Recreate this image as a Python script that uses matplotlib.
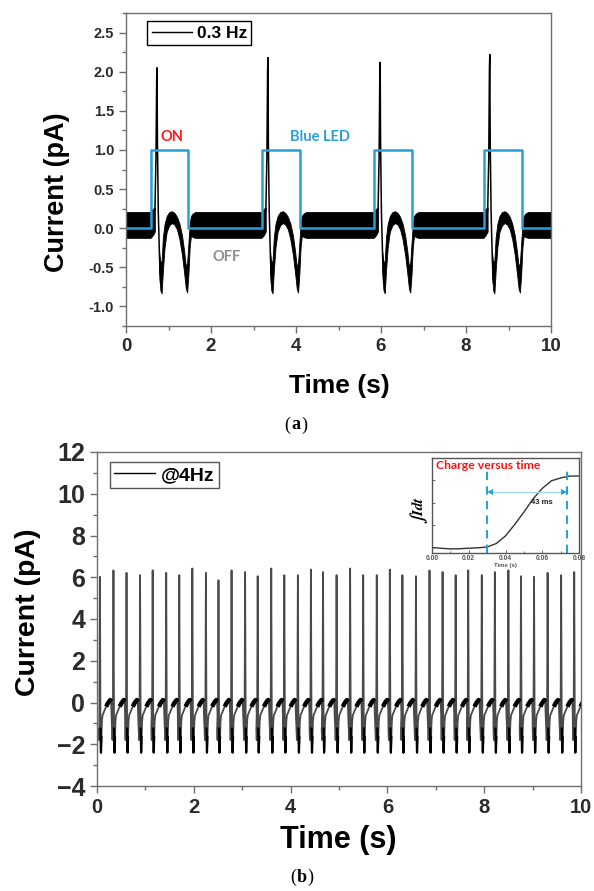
import numpy as np
import matplotlib
matplotlib.use("Agg")
import matplotlib.pyplot as plt
from matplotlib.ticker import MultipleLocator
from matplotlib.lines import Line2D

plt.rcParams['font.family'] = ['Liberation Sans', 'DejaVu Sans']
plt.rcParams['font.weight'] = 'bold'
plt.rcParams['axes.labelweight'] = 'bold'

# ---------------- data: panel (a) ----------------
led_on = [0.59, 3.20, 5.84, 8.42]
led_off = [1.46, 4.09, 6.73, 9.32]
peak_a = [2.05, 2.18, 2.12, 2.22]
base_hi, base_lo = 0.20, -0.13
# spike trace relative to LED-on
spike_rel = [0.09, 0.115, 0.132, 0.14, 0.15, 0.17, 0.20, 0.225]
spike_val = [0.22, 0.9, None, None, 1.1, 0.2, -0.4, -0.7]
# noisy envelope around the dip-hump-dip (relative to LED-on)
arch_rel = [0.20, 0.23, 0.26, 0.29, 0.33, 0.38, 0.44, 0.50, 0.56, 0.62,
            0.68, 0.74, 0.79, 0.83, 0.86, 0.89, 0.92, 0.95, 0.99, 1.05]
arch_hi = [-0.30, -0.45, -0.42, -0.12, 0.05, 0.15, 0.20, 0.21, 0.19, 0.14,
           0.05, -0.10, -0.30, -0.50, -0.45, -0.20, 0.05, 0.15, 0.18, 0.20]
arch_lo = [-0.55, -0.80, -0.84, -0.55, -0.25, -0.05, 0.03, 0.06, 0.04, -0.02,
           -0.15, -0.35, -0.58, -0.78, -0.83, -0.60, -0.25, -0.10, -0.12, -0.13]

# ---------------- data: panel (b) ----------------
spike_t_b = [0.06, 0.34, 0.61, 0.89, 1.15, 1.43, 1.70, 1.97, 2.25, 2.51, 2.78,
             3.06, 3.32, 3.60, 3.87, 4.15, 4.42, 4.67, 4.95, 5.23, 5.50, 5.78,
             6.05, 6.31, 6.59, 6.87, 7.14, 7.41, 7.67, 7.95, 8.22, 8.50, 8.76,
             9.03, 9.31, 9.59, 9.86]
peak_b = [6.02, 6.33, 6.21, 6.10, 6.33, 6.21, 6.10, 6.42, 6.21, 5.86, 6.33,
          6.25, 6.05, 6.42, 6.10, 6.10, 6.37, 6.25, 6.10, 6.42, 6.10, 6.10,
          6.37, 6.10, 6.05, 6.33, 6.25, 6.10, 6.33, 6.10, 6.25, 6.33, 6.05,
          6.02, 6.21, 6.10, 6.25]
cyc_rel = [-0.028, -0.020, -0.012, -0.006, 0.0, 0.006, 0.012, 0.022, 0.032,
           0.042, 0.055, 0.075, 0.10, 0.13, 0.16, 0.19, 0.215, 0.232, 0.240]
cyc_val = [-1.3, -1.8, -1.2, 2.5, None, 2.0, -1.2, -2.4, -1.6,
           -0.9, -0.6, -0.5, -0.35, -0.2, -0.05, 0.05, 0.12, 0.05, -0.6]

# inset: charge versus time
q_t = [0.000, 0.005, 0.010, 0.015, 0.020, 0.025, 0.030, 0.035, 0.040, 0.045,
       0.050, 0.055, 0.060, 0.065, 0.070, 0.075, 0.080]
q_v = [0.057, 0.050, 0.043, 0.045, 0.050, 0.055, 0.063, 0.10, 0.18, 0.30,
       0.43, 0.57, 0.68, 0.76, 0.79, 0.81, 0.81]
t_start, t_end = 0.0298, 0.0736

W, H = 594, 891
fig = plt.figure(figsize=(W / 100, H / 100), dpi=100)

spine_c = '#6e6e6e'
tick_c = '#2b2b2b'
blue = '#2a9fd8'


def style(ax, xs, ys):
    for s in ax.spines.values():
        s.set_color(spine_c)
        s.set_linewidth(1.0)
    ax.tick_params(which='both', direction='out', color=spine_c, width=1.0,
                   top=False, right=False, labelcolor=tick_c)
    ax.tick_params(which='major', length=5)
    ax.tick_params(which='minor', length=3)
    ax.tick_params(axis='x', labelsize=xs)
    ax.tick_params(axis='y', labelsize=ys)


def caption(cx, cy, letter):
    serif = ['Liberation Serif', 'DejaVu Serif']
    fig.text(cx / W, 1 - cy / H, letter, fontsize=13, family=serif,
             fontweight='bold', ha='center', va='center')
    fig.text((cx - 5.5) / W, 1 - cy / H, '(', fontsize=13, family=serif,
             fontweight='normal', ha='right', va='center')
    fig.text((cx + 5.5) / W, 1 - cy / H, ')', fontsize=13, family=serif,
             fontweight='normal', ha='left', va='center')


# ---------------- panel (a) ----------------
axA = fig.add_axes([126 / W, 1 - 326 / H, 425 / W, 313 / H])
bt, bh, bl = [0.0], [base_hi], [base_lo]
for on in led_on:
    bt += [on, on + 0.05, on + 0.10, on + 0.11]
    bh += [base_hi, 0.24, 0.26, np.nan]
    bl += [base_lo, -0.10, -0.05, np.nan]
    bt += [on + r for r in arch_rel]
    bh += arch_hi
    bl += arch_lo
bt.append(10.0); bh.append(base_hi); bl.append(base_lo)
bt, bh, bl = np.array(bt), np.array(bh, float), np.array(bl, float)
axA.fill_between(bt, bl, bh, color='black', lw=0.6, edgecolor='black')

for on, pk in zip(led_on, peak_a):
    vals = [v if v is not None else pk for v in spike_val]
    vals[2] = pk * 0.93
    axA.plot([on + r for r in spike_rel], vals, color='black', lw=1.1)

# LED step
lx, ly = [0.0], [0.0]
for on, off in zip(led_on, led_off):
    lx += [on, on, off, off]
    ly += [0.0, 1.0, 1.0, 0.0]
lx.append(10.0); ly.append(0.0)
axA.plot(lx, ly, color=blue, lw=1.8)

axA.set_xlim(0, 10)
axA.set_ylim(-1.25, 2.75)
axA.xaxis.set_major_locator(MultipleLocator(2))
axA.xaxis.set_minor_locator(MultipleLocator(1))
axA.yaxis.set_major_locator(MultipleLocator(0.5))
axA.yaxis.set_minor_locator(MultipleLocator(0.25))
axA.set_yticks(np.arange(-1.0, 2.51, 0.5))
axA.set_yticklabels(['%.1f' % v for v in np.arange(-1.0, 2.51, 0.5)])
style(axA, 13.5, 10.5)

leg = axA.legend([Line2D([], [], color='black', lw=1.0)], ['0.3 Hz'],
                 loc='upper left', bbox_to_anchor=(0.05, 0.973),
                 borderaxespad=0, fancybox=False, framealpha=1,
                 edgecolor='black', prop={'size': 12.5, 'weight': 'bold'},
                 handlelength=2.3, handletextpad=0.3, borderpad=0.25)
leg.get_frame().set_linewidth(1.0)

axA.text(1.09, 1.17, 'ON', color='#ff1a1a', fontsize=10.5, fontweight='bold',
         ha='center', va='center', family=['Lato', 'DejaVu Sans'])
axA.text(4.56, 1.17, 'Blue LED', color=blue, fontsize=10.5, fontweight='bold',
         ha='center', va='center', family=['Lato', 'DejaVu Sans'])
axA.text(2.37, -0.37, 'OFF', color='#8c8c8c', fontsize=10.5, fontweight='bold',
         ha='center', va='center', family=['Lato', 'DejaVu Sans'])

fig.text(57 / W, 1 - 192 / H, 'Current (pA)', rotation=90, fontsize=19.5,
         ha='center', va='center')
fig.text(339 / W, 1 - 386 / H, 'Time (s)', fontsize=19, ha='center', va='center')
caption(296, 425, 'a')

# ---------------- panel (b) ----------------
axB = fig.add_axes([97 / W, 1 - 786 / H, 484 / W, 334 / H])
tb, vb = [], []
for tk, pk in zip(spike_t_b, peak_b):
    tb += [tk + r for r in cyc_rel]
    vb += [v if v is not None else pk for v in cyc_val]
axB.plot(tb, vb, color='#4a4a4a', lw=1.3, label='@4Hz')
for tk in spike_t_b:
    i0, i1 = cyc_rel.index(0.012), cyc_rel.index(0.032)
    axB.plot([tk + r for r in cyc_rel[i0:i1 + 1]], cyc_val[i0:i1 + 1],
             color='black', lw=1.6, solid_capstyle='butt')
    j0, j1 = cyc_rel.index(0.13), cyc_rel.index(0.232)
    axB.plot([tk + r for r in cyc_rel[j0:j1 + 1]], cyc_val[j0:j1 + 1],
             color='black', lw=3.2, solid_capstyle='butt')

axB.set_xlim(0, 10)
axB.set_ylim(-4, 12)
axB.xaxis.set_major_locator(MultipleLocator(2))
axB.xaxis.set_minor_locator(MultipleLocator(1))
axB.yaxis.set_major_locator(MultipleLocator(2))
axB.yaxis.set_minor_locator(MultipleLocator(1))
style(axB, 14.5, 18)

legB = axB.legend([Line2D([], [], color='black', lw=1.0)], ['@4Hz'],
                  loc='upper left', bbox_to_anchor=(13 / 484, 1 - 10 / 334),
                  borderaxespad=0, fancybox=False, framealpha=1,
                  edgecolor='#555555', prop={'size': 14, 'weight': 'bold'},
                  handlelength=2.1, handletextpad=0.3, borderpad=0.22)
legB.get_frame().set_linewidth(1.0)

fig.text(28 / W, 1 - 612 / H, 'Current (pA)', rotation=90, fontsize=20.5,
         ha='center', va='center')
fig.text(338 / W, 1 - 840 / H, 'Time (s)', fontsize=22, ha='center', va='center')
caption(302, 877, 'b')

# ---------------- inset ----------------
axI = fig.add_axes([432 / W, 1 - 553 / H, 147 / W, 95 / H])
axI.plot(q_t, q_v, color='#333333', lw=1.0)
axI.set_xlim(0, 0.08)
axI.set_ylim(0, 1)
for s in axI.spines.values():
    s.set_color('#555555')
    s.set_linewidth(1.0)
axI.set_xticks([0.0, 0.02, 0.04, 0.06, 0.08])
axI.set_xticklabels(['0.00', '0.02', '0.04', '0.06', '0.08'])
axI.xaxis.set_minor_locator(MultipleLocator(0.01))
axI.set_yticks([0.067, 0.30, 0.53, 0.77])
axI.set_yticklabels([])
axI.tick_params(which='both', direction='in', color='#555555', width=0.6,
                labelsize=4.8, labelcolor='#555555', pad=1.5)
axI.tick_params(which='major', length=2.2)
axI.tick_params(which='minor', length=1.3)
axI.set_xlabel('Time (s)', fontsize=4.3, color='#555555', labelpad=0.5)
axI.axvline(t_start, ymin=0, ymax=0.86, color=blue, lw=1.5, dashes=(4, 3))
axI.axvline(t_end, ymin=0, ymax=0.86, color=blue, lw=1.5, dashes=(4, 3))
axI.plot([t_start + 0.002, t_end - 0.002], [0.64, 0.64], color='#a9d5f2', lw=1.0)
axI.plot([t_start + 0.0018], [0.64], marker='<', color=blue, ms=5, mew=0)
axI.plot([t_end - 0.0018], [0.64], marker='>', color=blue, ms=5, mew=0)
axI.text(0.0598, 0.53, '43 ms', fontsize=5.5, fontweight='bold', color='#222222',
         ha='center', va='center')
axI.text(0.027, 0.92, 'Charge versus time', transform=axI.transAxes,
         color='#ff1010', fontsize=8.8, fontweight='bold', ha='left', va='center',
         family=['Lato', 'DejaVu Sans'])
fig.text(419 / W, 1 - 510 / H, r'$\int Idt$', rotation=90, fontsize=11,
         math_fontfamily='stix', fontweight='normal', ha='center', va='center')

fig.savefig('out.png', dpi=100)
